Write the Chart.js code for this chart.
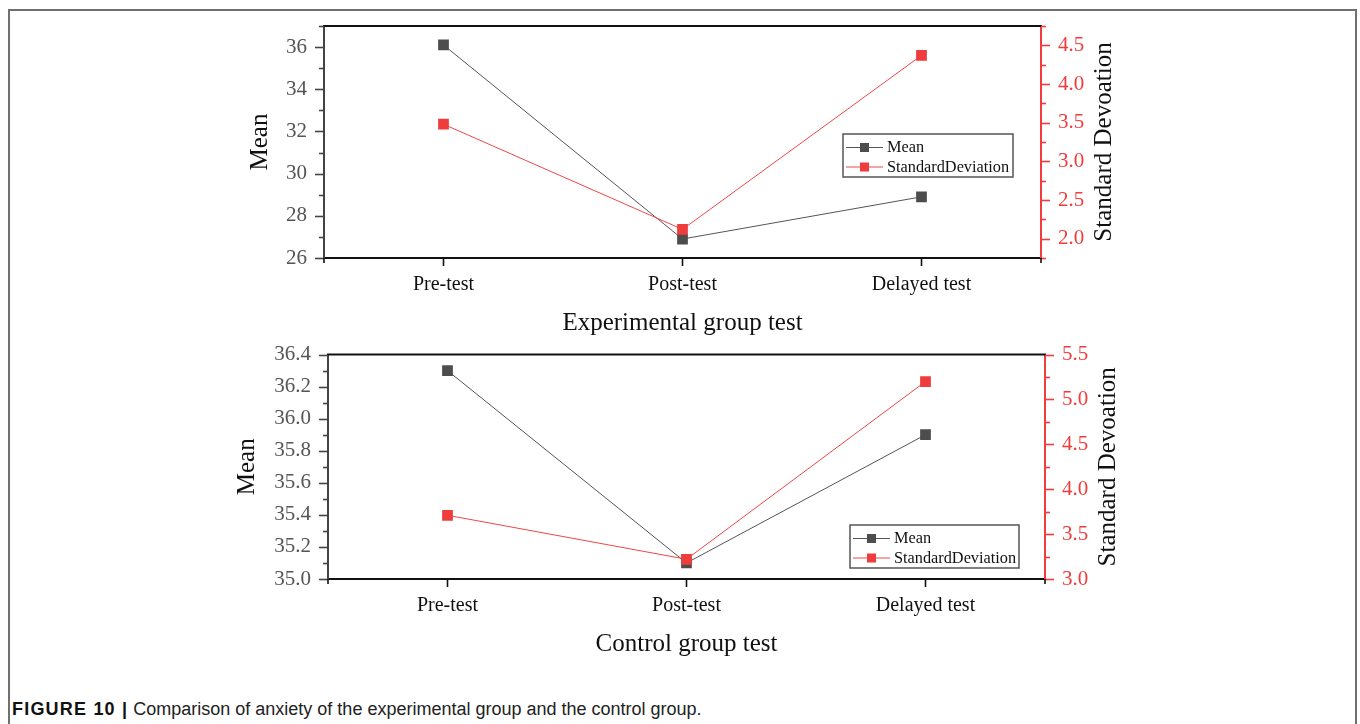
<!DOCTYPE html>
<html>
<head>
<meta charset="utf-8">
<script src="https://cdn.jsdelivr.net/npm/chart.js@4.4.1/dist/chart.umd.min.js"></script>
<style>
  html, body { margin: 0; padding: 0; background: #fff; }
  body { width: 1360px; height: 724px; position: relative; overflow: hidden; }
  .frame { position: absolute; left: 8px; top: 9px; width: 1349px; height: 740px;
           border: 2px solid #707070; box-sizing: border-box; }
  canvas { position: absolute; left: 0; }
  #expChart { top: 0; }
  #ctrlChart { top: 334px; }
  .caption { position: absolute; left: 12px; top: 698px; font-family: "Liberation Sans", Arial, sans-serif;
             font-size: 18px; line-height: 22px; color: #222; white-space: nowrap; }
  .caption b { font-weight: bold; color: #111; letter-spacing: 1.2px; }
</style>
</head>
<body>
<div class="frame"></div>
<canvas id="expChart" width="1360" height="340"></canvas>
<canvas id="ctrlChart" width="1360" height="326"></canvas>
<div class="caption"><b>FIGURE 10 |</b> Comparison of anxiety of the experimental group and the control group.</div>
<script>
// Test stages on the x axis
const CATEGORIES = ['Pre-test', 'Post-test', 'Delayed test'];

// Experimental group
const EXP_MEAN = [36.1, 26.9, 28.9];
const EXP_SD = [3.48, 2.12, 4.37];
const EXP_MEAN_TICKS = [26, 28, 30, 32, 34, 36];
const EXP_SD_TICKS = [2.0, 2.5, 3.0, 3.5, 4.0, 4.5];

// Control group
const CTRL_MEAN = [36.3, 35.1, 35.9];
const CTRL_SD = [3.71, 3.22, 5.2];
const CTRL_MEAN_TICKS = [35.0, 35.2, 35.4, 35.6, 35.8, 36.0, 36.2, 36.4];
const CTRL_SD_TICKS = [3.0, 3.5, 4.0, 4.5, 5.0, 5.5];

const SERIF = '"Liberation Serif", "Times New Roman", serif';
const MEAN_LINE = '#555555';
const MEAN_MARK = '#4d4d4d';
const SD_LINE = '#f04646';
const SD_MARK = '#ef3c3c';
const AXIS_RED = '#f03c3c';

// Major ticks plus half-step minor ticks, drawn by hand outside the plot area
function minorValues(major, min, max) {
  const out = [];
  const step = major[1] - major[0];
  const half = step / 2;
  for (let i = 0; i < major.length - 1; i++) out.push((major[i] + major[i + 1]) / 2);
  if (major[0] - half >= min - 1e-9) out.push(major[0] - half);
  const last = major[major.length - 1];
  if (last + half <= max + 1e-9) out.push(last + half);
  return out;
}

const axisDecor = {
  id: 'axisDecor',
  afterDraw(chart, args, opts) {
    const { ctx, chartArea: a } = chart;
    const ys = chart.scales.y, y1 = chart.scales.y1;
    ctx.save();
    ctx.lineCap = 'butt';

    // top frame line
    ctx.strokeStyle = '#111';
    ctx.lineWidth = 2;
    ctx.beginPath();
    ctx.moveTo(a.left - 1, a.top);
    ctx.lineTo(a.right + 1, a.top);
    ctx.stroke();

    const tickSet = (scale, major, xEdge, dir, color) => {
      ctx.strokeStyle = color;
      ctx.lineWidth = 1.6;
      const minors = minorValues(major, scale.min, scale.max);
      major.forEach(v => {
        const p = Math.round(scale.getPixelForValue(v)) + 0.5;
        ctx.beginPath(); ctx.moveTo(xEdge, p); ctx.lineTo(xEdge + dir * 9, p); ctx.stroke();
      });
      minors.forEach(v => {
        const p = Math.round(scale.getPixelForValue(v)) + 0.5;
        ctx.beginPath(); ctx.moveTo(xEdge, p); ctx.lineTo(xEdge + dir * 5, p); ctx.stroke();
      });
    };
    tickSet(ys, opts.meanTicks, a.left, -1, '#444');
    tickSet(y1, opts.sdTicks, a.right, 1, AXIS_RED);

    // end ticks on the category axis
    ctx.strokeStyle = '#111';
    ctx.lineWidth = 1.6;
    [a.left, a.right].forEach(px => {
      ctx.beginPath(); ctx.moveTo(px, a.bottom); ctx.lineTo(px, a.bottom + 5); ctx.stroke();
    });

    // right axis title, reading bottom to top
    ctx.fillStyle = '#111';
    ctx.font = '25px ' + SERIF;
    ctx.textAlign = 'center';
    ctx.textBaseline = 'middle';
    ctx.translate(a.right + opts.rightTitleOffset, (a.top + a.bottom) / 2);
    ctx.rotate(-Math.PI / 2);
    ctx.fillText('Standard Devoation', 0, 0);
    ctx.restore();
  }
};

// Boxed legend placed inside the plot area
const boxLegend = {
  id: 'boxLegend',
  afterDraw(chart, args, opts) {
    const { ctx, chartArea: a } = chart;
    const x0 = a.right - opts.fromRight;
    const y0 = opts.fromTop != null ? a.top + opts.fromTop : a.bottom - opts.fromBottom;
    const w = opts.width, h = opts.height;
    ctx.save();
    ctx.fillStyle = '#fff';
    ctx.fillRect(x0, y0, w, h);
    ctx.strokeStyle = '#555';
    ctx.lineWidth = 1.5;
    ctx.strokeRect(x0, y0, w, h);
    const order = ['Mean', 'StandardDeviation'];
    order.forEach((name, i) => {
      const ds = chart.data.datasets.find(d => d.label === name);
      const cy = y0 + 13 + i * 19.5;
      ctx.strokeStyle = ds.borderColor;
      ctx.lineWidth = 1;
      ctx.beginPath(); ctx.moveTo(x0 + 3, cy + 0.5); ctx.lineTo(x0 + 40, cy + 0.5); ctx.stroke();
      ctx.fillStyle = ds.pointBackgroundColor;
      ctx.fillRect(x0 + 17, cy - 4, 9, 9);
      ctx.fillStyle = '#111';
      ctx.font = '16.3px ' + SERIF;
      ctx.textAlign = 'left';
      ctx.textBaseline = 'middle';
      ctx.fillText(name, x0 + 44, cy + 1);
    });
    ctx.restore();
  }
};

function buildChart(id, s) {
  const tickFont = { family: SERIF, size: 21 };
  const xTickFont = { family: SERIF, size: 20 };
  const titleFont = { family: SERIF, size: 25 };
  return new Chart(document.getElementById(id), {
    type: 'line',
    data: {
      labels: CATEGORIES,
      datasets: [
        {
          label: 'StandardDeviation', data: s.sd, yAxisID: 'y1',
          borderColor: SD_LINE, backgroundColor: SD_MARK, pointBackgroundColor: SD_MARK,
          borderWidth: 1, pointStyle: 'rect', pointRadius: 7.6, pointBorderWidth: 0,
          tension: 0, order: 0
        },
        {
          label: 'Mean', data: s.mean, yAxisID: 'y',
          borderColor: MEAN_LINE, backgroundColor: MEAN_MARK, pointBackgroundColor: MEAN_MARK,
          borderWidth: 1, pointStyle: 'rect', pointRadius: 7.6, pointBorderWidth: 0,
          tension: 0, order: 1
        }
      ]
    },
    options: {
      responsive: false,
      animation: false,
      layout: { padding: s.padding },
      plugins: {
        legend: { display: false },
        tooltip: { enabled: false },
        axisDecor: { meanTicks: s.meanTicks, sdTicks: s.sdTicks, rightTitleOffset: 63 },
        boxLegend: s.legend
      },
      scales: {
        x: {
          type: 'category',
          offset: true,
          afterFit: sc => { sc.height = 80; },
          border: { color: '#111', width: 2 },
          grid: { drawOnChartArea: false, tickLength: 8, tickColor: '#111', tickWidth: 1.6 },
          ticks: { font: xTickFont, color: '#111', padding: 7, maxRotation: 0 },
          title: { display: true, text: s.xTitle, font: titleFont, color: '#111', padding: { top: 0, bottom: 0 } }
        },
        y: {
          position: 'left',
          min: s.meanRange[0], max: s.meanRange[1],
          afterBuildTicks: sc => { sc.ticks = s.meanTicks.map(v => ({ value: v })); },
          afterFit: sc => { sc.width = 100; },
          border: { color: '#444', width: 2 },
          grid: { drawOnChartArea: false, tickLength: 9, tickColor: 'rgba(0,0,0,0)' },
          ticks: { font: tickFont, color: '#555', padding: 8, callback: v => Number(v).toFixed(s.meanDec) },
          title: { display: true, text: 'Mean', font: titleFont, color: '#111', padding: { top: s.meanTitlePad, bottom: 0 } }
        },
        y1: {
          position: 'right',
          min: s.sdRange[0], max: s.sdRange[1],
          afterBuildTicks: sc => { sc.ticks = s.sdTicks.map(v => ({ value: v })); },
          afterFit: sc => { sc.width = 100; },
          border: { color: AXIS_RED, width: 2 },
          grid: { drawOnChartArea: false, tickLength: 9, tickColor: 'rgba(0,0,0,0)' },
          ticks: { font: tickFont, color: AXIS_RED, padding: 8, callback: v => Number(v).toFixed(1) }
        }
      }
    },
    plugins: [axisDecor, boxLegend]
  });
}

buildChart('expChart', {
  mean: EXP_MEAN, sd: EXP_SD,
  meanTicks: EXP_MEAN_TICKS, sdTicks: EXP_SD_TICKS,
  meanRange: [26, 37], sdRange: [1.75, 4.75], meanDec: 0,
  xTitle: 'Experimental group test',
  padding: { left: 224, right: 219, top: 26, bottom: 2 },
  meanTitlePad: 21,
  legend: { fromRight: 198, fromTop: 108, width: 170, height: 43 }
});

buildChart('ctrlChart', {
  mean: CTRL_MEAN, sd: CTRL_SD,
  meanTicks: CTRL_MEAN_TICKS, sdTicks: CTRL_SD_TICKS,
  meanRange: [35.0, 36.4], sdRange: [3.0, 5.5], meanDec: 1,
  xTitle: 'Control group test',
  padding: { left: 228, right: 215, top: 13, bottom: 1 },
  meanTitlePad: 4,
  legend: { fromRight: 195, fromBottom: 54, width: 169, height: 43 }
});
</script>
</body>
</html>
